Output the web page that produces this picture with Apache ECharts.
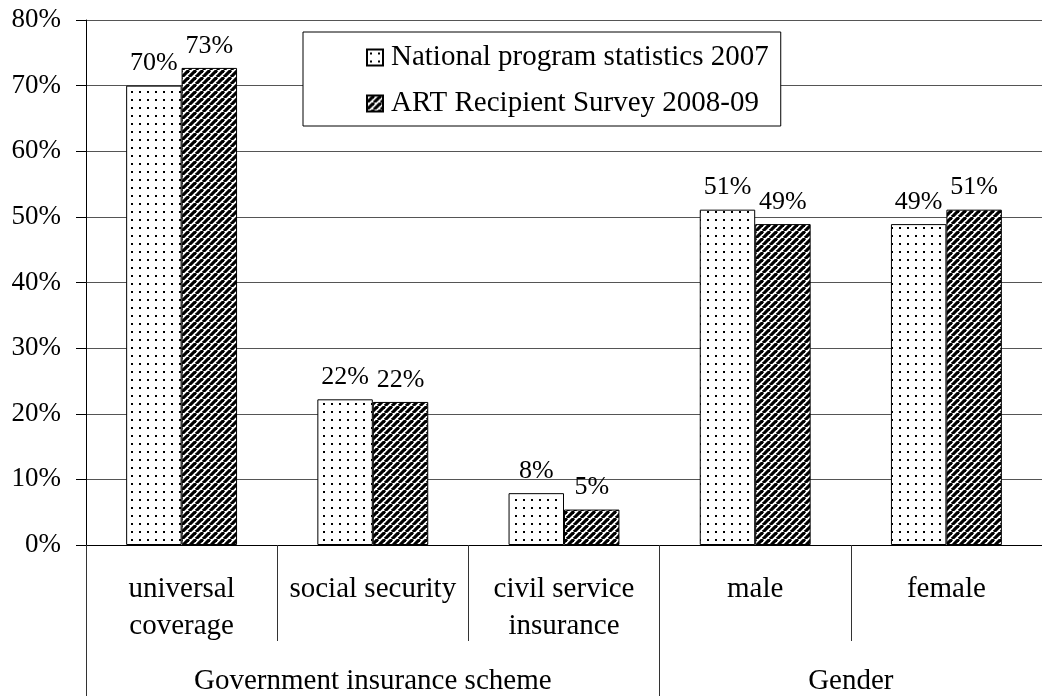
<!DOCTYPE html>
<html><head><meta charset="utf-8">
<script src="https://cdn.jsdelivr.net/npm/echarts@6/dist/echarts.min.js"></script>
<style>html,body{margin:0;padding:0;background:#fff}#c{width:1042px;height:696px}</style>
</head><body><div id="c"></div>
<script>
const categories = ['universal\ncoverage', 'social security', 'civil service\ninsurance', 'male', 'female'];
const groups = ['Government insurance scheme', 'Gender'];
const groupSizes = [3, 2];
const seriesNames = ['National program statistics 2007', 'ART Recipient Survey 2008-09'];
const national2007 = [70, 22.2, 7.9, 51.1, 48.9];
const survey2008 = [72.7, 21.8, 5.4, 48.9, 51.1];
const yTicks = [0, 10, 20, 30, 40, 50, 60, 70, 80];

function dotPattern() {
  const c = document.createElement('canvas'); c.width = 8; c.height = 8;
  const g = c.getContext('2d');
  g.fillStyle = '#fff'; g.fillRect(0, 0, 8, 8);
  g.fillStyle = '#000'; g.fillRect(3, 3, 2, 2);
  return c;
}
function hatchPattern() {
  const c = document.createElement('canvas'); c.width = 7; c.height = 7;
  const g = c.getContext('2d');
  g.fillStyle = '#fff'; g.fillRect(0, 0, 7, 7);
  g.strokeStyle = '#000'; g.lineWidth = 3.2;
  for (const x0 of [-7, 0, 7]) {
    g.beginPath(); g.moveTo(x0, 7); g.lineTo(x0 + 7, 0); g.stroke();
  }
  return c;
}
const FONT = 'Liberation Serif';
const chart = echarts.init(document.getElementById('c'), null, {renderer: 'canvas'});
const boundaries = [0];
groupSizes.forEach((s, i) => boundaries.push(boundaries[i] + s));
const groupCenters = groupSizes.map((s, i) => boundaries[i] + s / 2);

function mkSeries(name, data, pat) {
  return {
    name, type: 'bar', data, barWidth: '29%', barGap: '0%',
    itemStyle: {color: {image: pat, repeat: 'repeat'}, borderColor: '#000', borderWidth: 1},
    label: {show: true, position: 'top', distance: 9, fontFamily: FONT, fontSize: 26, color: '#000',
      formatter: p => Math.round(p.value) + '%'}
  };
}
chart.setOption({
  animation: false,
  textStyle: {fontFamily: FONT},
  grid: {left: 86, top: 20, bottom: 151, width: 968, containLabel: false},
  legend: {
    orient: 'vertical', left: 303, top: 32,
    padding: [11, 12, 8, 63], itemGap: 17, itemWidth: 16, itemHeight: 16,
    icon: 'rect',
    borderColor: '#000', borderWidth: 1, backgroundColor: '#fff',
    textStyle: {fontFamily: FONT, fontSize: 29, color: '#000', padding: [0, 0, 0, 3]},
    data: seriesNames
  },
  xAxis: [{
    type: 'category', data: categories, position: 'bottom',
    axisLine: {show: true, lineStyle: {color: '#000', width: 1}},
    axisTick: {show: true, length: 96, lineStyle: {color: '#333'}},
    axisLabel: {fontFamily: FONT, fontSize: 29, color: '#000', margin: 26, lineHeight: 37, interval: 0}
  }, {
    type: 'value', min: 0, max: boundaries[boundaries.length - 1], position: 'bottom', offset: 96,
    axisLine: {show: false},
    splitLine: {show: false},
    axisTick: {show: true, length: 60, customValues: boundaries, lineStyle: {color: '#333'}},
    axisLabel: {fontFamily: FONT, fontSize: 29, color: '#000', margin: 26,
      customValues: groupCenters,
      formatter: v => { const i = groupCenters.indexOf(v); return i >= 0 ? groups[i] : ''; }}
  }],
  yAxis: {
    type: 'value', min: 0, max: 80, interval: 10,
    axisLine: {show: true, lineStyle: {color: '#000'}},
    axisTick: {show: true, length: 10, lineStyle: {color: '#000'}},
    splitLine: {show: true, lineStyle: {color: '#555', width: 1}},
    axisLabel: {fontFamily: FONT, fontSize: 27, color: '#000', margin: 25, formatter: v => v + '%'}
  },
  series: [mkSeries(seriesNames[0], national2007, dotPattern()), mkSeries(seriesNames[1], survey2008, hatchPattern())]
});
</script></body></html>
